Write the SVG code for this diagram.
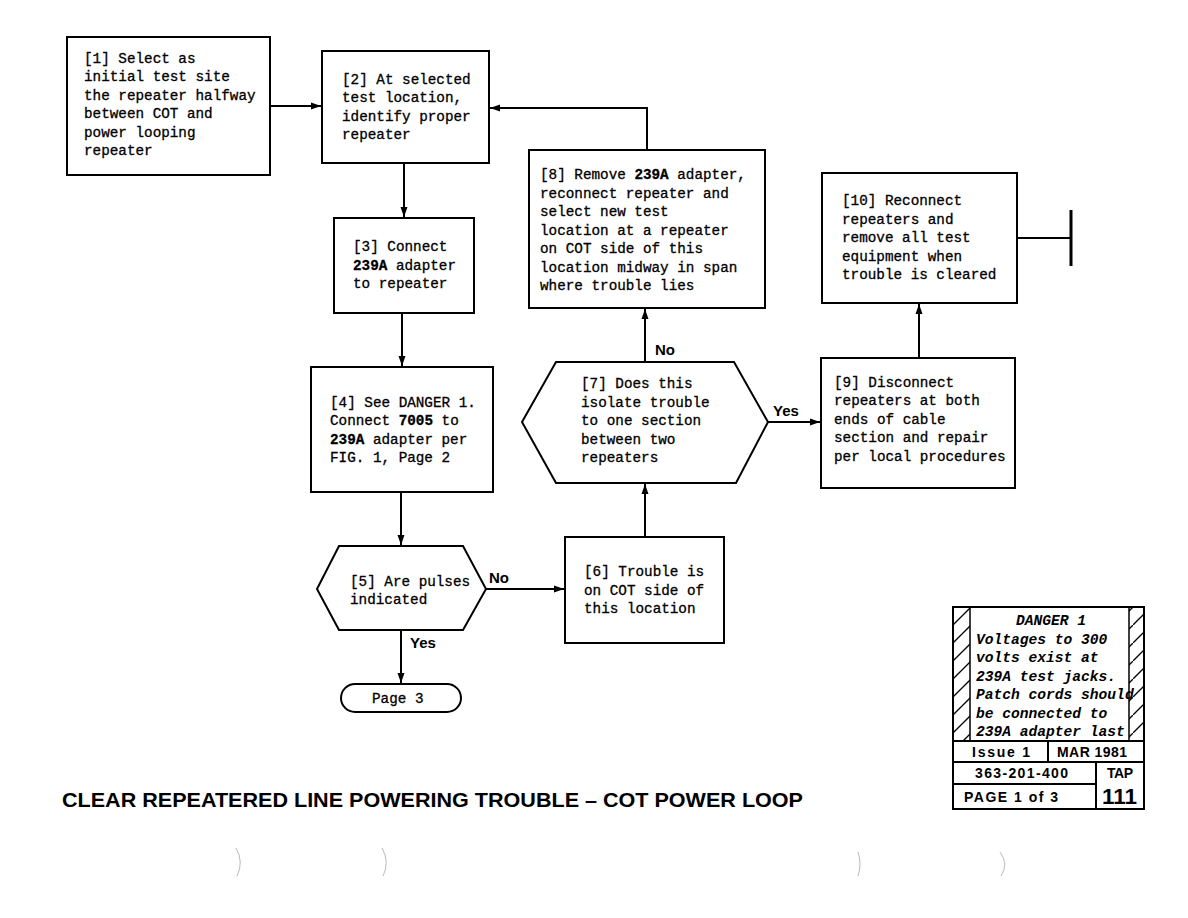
<svg xmlns="http://www.w3.org/2000/svg" width="1188" height="918" viewBox="0 0 1188 918">
<style>
.box{fill:#fff;stroke:#000;stroke-width:2}
.t{font-family:"Liberation Mono",monospace;font-size:14.3px;fill:#000;stroke:#000;stroke-width:0.3}
.b{font-weight:bold}
.lbl{font-family:"Liberation Sans",Arial,sans-serif;font-size:15px;font-weight:bold;fill:#000}
.ln{fill:none;stroke:#000;stroke-width:2}
.dg{font-family:"Liberation Mono",monospace;font-size:14.6px;font-weight:bold;font-style:italic;fill:#000}
.ft{font-family:"Liberation Sans",Arial,sans-serif;font-weight:bold;fill:#000}
.hole{fill:none;stroke:#bbb;stroke-width:1}
</style>
<defs>
<marker id="ah" viewBox="0 0 10 8" refX="10" refY="4" markerWidth="10" markerHeight="8" markerUnits="userSpaceOnUse" orient="auto">
<path d="M0,0.5 L10,4 L0,7.5 Z" fill="#000"/>
</marker>
<pattern id="hatch" patternUnits="userSpaceOnUse" width="18" height="18" x="953" y="607">
<line x1="0" y1="18" x2="18" y2="0" stroke="#000" stroke-width="1.3"/>
</pattern>
</defs>
<rect width="1188" height="918" fill="#fff"/>

<g id="connectors">
<line class="ln" x1="270" y1="106" x2="321" y2="106" marker-end="url(#ah)"/>
<polyline class="ln" points="647,150 647,108 490,108" marker-end="url(#ah)"/>
<line class="ln" x1="404" y1="163" x2="404" y2="217" marker-end="url(#ah)"/>
<line class="ln" x1="402" y1="313" x2="402" y2="366" marker-end="url(#ah)"/>
<line class="ln" x1="401" y1="492" x2="401" y2="545" marker-end="url(#ah)"/>
<line class="ln" x1="486" y1="589" x2="564" y2="589" marker-end="url(#ah)"/>
<line class="ln" x1="645" y1="537" x2="645" y2="484" marker-end="url(#ah)"/>
<line class="ln" x1="645" y1="362" x2="645" y2="309" marker-end="url(#ah)"/>
<line class="ln" x1="768" y1="422" x2="820" y2="422" marker-end="url(#ah)"/>
<line class="ln" x1="919" y1="358" x2="919" y2="304" marker-end="url(#ah)"/>
<line class="ln" x1="1017" y1="238" x2="1071" y2="238"/>
<line x1="1071" y1="210" x2="1071" y2="266" stroke="#000" stroke-width="3"/>
<line class="ln" x1="401" y1="630" x2="401" y2="683" marker-end="url(#ah)"/>
<text class="lbl" x="489" y="583">No</text>
<text class="lbl" x="655" y="355">No</text>
<text class="lbl" x="773" y="416">Yes</text>
<text class="lbl" x="410" y="648">Yes</text>
</g>

<g id="n1">
<rect class="box" x="67" y="37" width="203" height="138"/>
<text class="t" x="84" y="63">[1] Select as</text>
<text class="t" x="84" y="81">initial test site</text>
<text class="t" x="84" y="100">the repeater halfway</text>
<text class="t" x="84" y="118">between COT and</text>
<text class="t" x="84" y="137">power looping</text>
<text class="t" x="84" y="155">repeater</text>
</g>

<g id="n2">
<rect class="box" x="322" y="51" width="167" height="112"/>
<text class="t" x="342" y="84">[2] At selected</text>
<text class="t" x="342" y="102">test location,</text>
<text class="t" x="342" y="121">identify proper</text>
<text class="t" x="342" y="139">repeater</text>
</g>

<g id="n3">
<rect class="box" x="334" y="218" width="140" height="95"/>
<text class="t" x="353" y="251">[3] Connect</text>
<text class="t" x="353" y="270"><tspan class="b">239A</tspan> adapter</text>
<text class="t" x="353" y="288">to repeater</text>
</g>

<g id="n4">
<rect class="box" x="311" y="367" width="182" height="125"/>
<text class="t" x="330" y="407">[4] See DANGER 1.</text>
<text class="t" x="330" y="425">Connect <tspan class="b">7005</tspan> to</text>
<text class="t" x="330" y="444"><tspan class="b">239A</tspan> adapter per</text>
<text class="t" x="330" y="462">FIG. 1, Page 2</text>
</g>

<g id="n5">
<polygon class="box" points="317,589 339,546 463,546 486,589 463,630 339,630"/>
<text class="t" x="350" y="586">[5] Are pulses</text>
<text class="t" x="350" y="604">indicated</text>
</g>

<g id="n6">
<rect class="box" x="565" y="537" width="159" height="106"/>
<text class="t" x="584" y="576">[6] Trouble is</text>
<text class="t" x="584" y="595">on COT side of</text>
<text class="t" x="584" y="613">this location</text>
</g>

<g id="n7">
<polygon class="box" points="522,422 556,362 734,362 768,422 736,483 556,483"/>
<text class="t" x="581" y="388">[7] Does this</text>
<text class="t" x="581" y="407">isolate trouble</text>
<text class="t" x="581" y="425">to one section</text>
<text class="t" x="581" y="444">between two</text>
<text class="t" x="581" y="462">repeaters</text>
</g>

<g id="n8">
<rect class="box" x="529" y="150" width="236" height="158"/>
<text class="t" x="540" y="179">[8] Remove <tspan class="b">239A</tspan> adapter,</text>
<text class="t" x="540" y="198">reconnect repeater and</text>
<text class="t" x="540" y="216">select new test</text>
<text class="t" x="540" y="235">location at a repeater</text>
<text class="t" x="540" y="253">on COT side of this</text>
<text class="t" x="540" y="272">location midway in span</text>
<text class="t" x="540" y="290">where trouble lies</text>
</g>

<g id="n9">
<rect class="box" x="821" y="358" width="194" height="130"/>
<text class="t" x="834" y="387">[9] Disconnect</text>
<text class="t" x="834" y="405">repeaters at both</text>
<text class="t" x="834" y="424">ends of cable</text>
<text class="t" x="834" y="442">section and repair</text>
<text class="t" x="834" y="461">per local procedures</text>
</g>

<g id="n10">
<rect class="box" x="822" y="173" width="195" height="130"/>
<text class="t" x="842" y="205">[10] Reconnect</text>
<text class="t" x="842" y="224">repeaters and</text>
<text class="t" x="842" y="242">remove all test</text>
<text class="t" x="842" y="261">equipment when</text>
<text class="t" x="842" y="279">trouble is cleared</text>
</g>

<g id="page3">
<rect class="box" x="341" y="684" width="120" height="28" rx="14" ry="14"/>
<text class="t" x="372" y="703">Page 3</text>
</g>

<g id="danger">
<rect x="953" y="607" width="191" height="202" fill="#fff" stroke="#000" stroke-width="2"/>
<rect x="953" y="607" width="17" height="134" fill="url(#hatch)" stroke="#000" stroke-width="1.5"/>
<rect x="1129" y="607" width="15" height="134" fill="url(#hatch)" stroke="#000" stroke-width="1.5"/>
<text class="dg" x="1051" y="625" text-anchor="middle">DANGER 1</text>
<text class="dg" x="976" y="644">Voltages to 300</text>
<text class="dg" x="976" y="662">volts exist at</text>
<text class="dg" x="976" y="681">239A test jacks.</text>
<text class="dg" x="976" y="699">Patch cords should</text>
<text class="dg" x="976" y="718">be connected to</text>
<text class="dg" x="976" y="736">239A adapter last</text>
<line class="ln" x1="953" y1="741" x2="1144" y2="741"/>
<line class="ln" x1="953" y1="762" x2="1144" y2="762"/>
<line class="ln" x1="953" y1="784" x2="1096" y2="784"/>
<line class="ln" x1="1048" y1="741" x2="1048" y2="762"/>
<line class="ln" x1="1096" y1="762" x2="1096" y2="809"/>
<text class="ft" x="972" y="757" font-size="14" textLength="58" lengthAdjust="spacing">Issue 1</text>
<text class="ft" x="1057" y="757" font-size="14" textLength="70" lengthAdjust="spacing">MAR 1981</text>
<text class="ft" x="975" y="778" font-size="14" textLength="93" lengthAdjust="spacing">363-201-400</text>
<text class="ft" x="1107" y="778" font-size="14" textLength="26" lengthAdjust="spacing">TAP</text>
<text class="ft" x="964" y="802" font-size="14" textLength="94" lengthAdjust="spacing">PAGE 1 of 3</text>
<text class="ft" x="1102" y="804" font-size="22" textLength="35" lengthAdjust="spacingAndGlyphs">111</text>
</g>

<g id="title">
<text class="ft" x="62" y="807" font-size="21" textLength="741" lengthAdjust="spacingAndGlyphs">CLEAR REPEATERED LINE POWERING TROUBLE – COT POWER LOOP</text>
</g>

<g id="holes">
<path class="hole" d="M236,848 Q244,862 237,876"/>
<path class="hole" d="M382,848 Q390,862 383,876"/>
<path class="hole" d="M858,852 Q862,864 858,876"/>
<path class="hole" d="M1000,852 Q1009,864 1001,876"/>
</g>
</svg>
